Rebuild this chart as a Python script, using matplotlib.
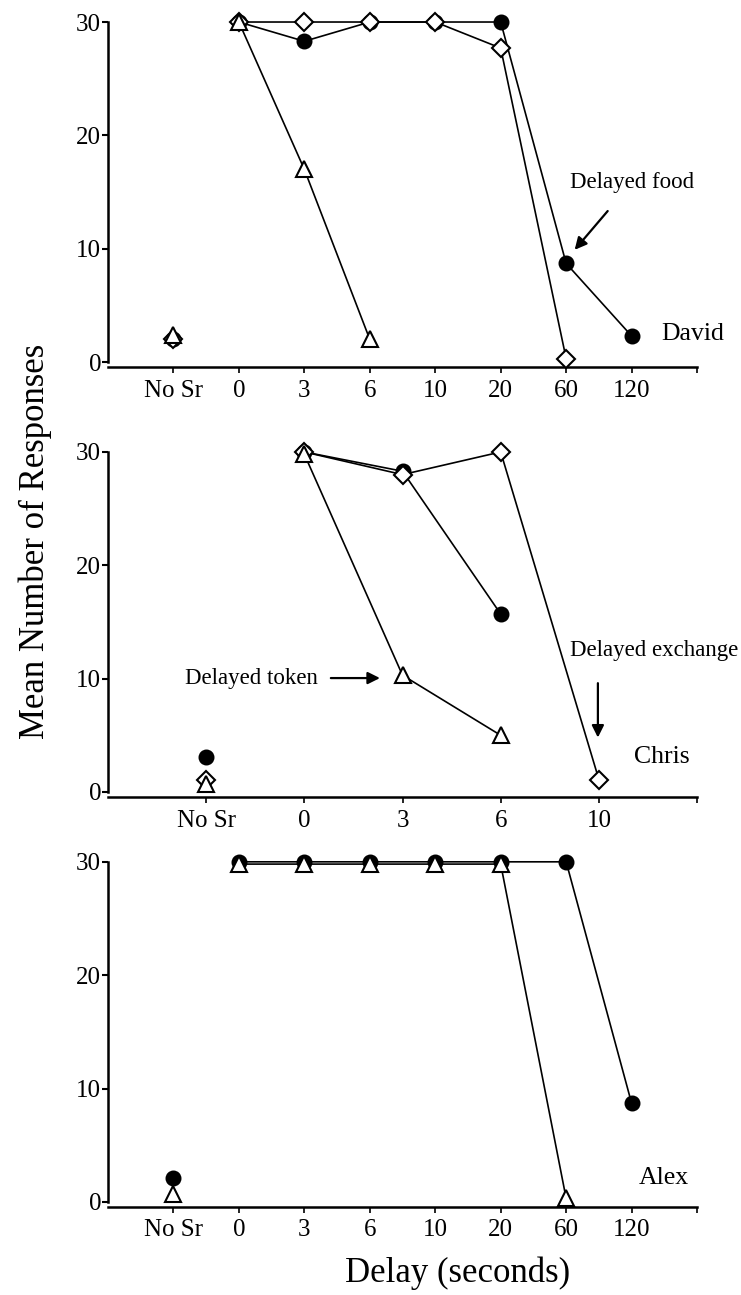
import matplotlib
matplotlib.use("Agg")
import matplotlib.pyplot as plt

plt.rcParams['font.family'] = ['Liberation Serif', 'DejaVu Serif']

# category labels on the x axis
cats_long = ["No Sr", "0", "3", "6", "10", "20", "60", "120"]
cats_short = ["No Sr", "0", "3", "6", "10"]

# David (values per category, None = no point)
david_food = [2.0, 30, 28.3, 30, 30, 30, 8.7, 2.3]
david_exch = [2.0, 30, 30, 30, 30, 27.7, 0.3, None]
david_token = [2.4, 30, 17.0, 2.0, None, None, None, None]

# Chris
chris_food = [3.1, 30, 28.3, 15.7, None]
chris_exch = [1.1, 30, 28.0, 30, 1.1]
chris_token = [0.7, 29.8, 10.3, 5.0, None]

# Alex
alex_food = [2.1, 30, 30, 30, 30, 30, 30, 8.7]
alex_token = [0.7, 29.8, 29.8, 29.8, 29.8, 29.8, 0.3, None]

fig = plt.figure(figsize=(7.41, 12.95), dpi=100)
left, width, height = 0.1457, 0.795, 0.2665
bottoms = [0.7165, 0.3845, 0.0680]

msizes = {'o': 10, 'D': 9.5, '^': 11}


def draw_series(ax, vals, marker, face, z):
    xs = [i for i, v in enumerate(vals) if v is not None]
    ys = [v for v in vals if v is not None]
    # No Sr point is not connected to the rest
    ax.plot(xs[1:], ys[1:], color='black', lw=1.2, zorder=z,
            marker=marker, ms=msizes[marker],
            mfc=face, mec='black', mew=1.5, clip_on=False)
    ax.plot(xs[:1], ys[:1], linestyle='none', zorder=z,
            marker=marker, ms=msizes[marker],
            mfc=face, mec='black', mew=1.5, clip_on=False)


def setup(ax, cats):
    n = len(cats)
    ax.set_xlim(-1, n)
    ax.set_ylim(-0.45, 30)
    for s in ['top', 'right']:
        ax.spines[s].set_visible(False)
    ax.spines['left'].set_bounds(0, 30)
    ax.spines['left'].set_linewidth(1.8)
    ax.spines['bottom'].set_linewidth(1.8)
    ax.set_yticks([0, 10, 20, 30])
    ax.set_xticks(range(n))
    ax.set_xticklabels(cats)
    ax.set_xticks([n], minor=True)
    ax.tick_params(axis='y', direction='out', length=4, width=1.5, pad=1, labelsize=18)
    ax.tick_params(axis='x', which='both', direction='out', length=4, width=1.2, pad=5, labelsize=18)


# panel 1 - David
ax1 = fig.add_axes([left, bottoms[0], width, height])
setup(ax1, cats_long)
draw_series(ax1, david_food, 'o', 'black', 3)
draw_series(ax1, david_exch, 'D', 'white', 4)
draw_series(ax1, david_token, '^', 'white', 5)
ax1.annotate("Delayed food", xy=(6.13, 9.9), xytext=(7.0, 15.8), ha='center', va='center',
             fontsize=16.5, annotation_clip=False,
             arrowprops=dict(arrowstyle='-|>', color='black', lw=1.6, mutation_scale=18,
                             shrinkA=14, shrinkB=0))
ax1.text(8.41, 2.5, "David", ha='right', va='center', fontsize=18.5)

# panel 2 - Chris
ax2 = fig.add_axes([left, bottoms[1], width, height])
setup(ax2, cats_short)
draw_series(ax2, chris_food, 'o', 'black', 3)
draw_series(ax2, chris_exch, 'D', 'white', 4)
draw_series(ax2, chris_token, '^', 'white', 5)
ax2.text(0.46, 10.05, "Delayed token", ha='center', va='center', fontsize=16.5)
ax2.annotate("", xy=(1.77, 10.05), xytext=(1.27, 10.05), annotation_clip=False,
             arrowprops=dict(arrowstyle='-|>', color='black', lw=1.6, mutation_scale=18,
                             shrinkA=0, shrinkB=0))
ax2.text(4.56, 12.5, "Delayed exchange", ha='center', va='center', fontsize=16.5, clip_on=False)
ax2.annotate("", xy=(3.99, 4.8), xytext=(3.99, 9.6), annotation_clip=False,
             arrowprops=dict(arrowstyle='-|>', color='black', lw=1.6, mutation_scale=18,
                             shrinkA=0, shrinkB=0))
ax2.text(4.92, 3.1, "Chris", ha='right', va='center', fontsize=18.5)

# panel 3 - Alex
ax3 = fig.add_axes([left, bottoms[2], width, height])
setup(ax3, cats_long)
draw_series(ax3, alex_food, 'o', 'black', 3)
draw_series(ax3, alex_token, '^', 'white', 5)
ax3.text(7.87, 2.1, "Alex", ha='right', va='center', fontsize=18.5)

fig.text(0.047, 0.582, "Mean Number of Responses", rotation=90, ha='center', va='center', fontsize=25)
fig.text(0.617, 0.017, "Delay (seconds)", ha='center', va='center', fontsize=25)

fig.savefig("out.png", dpi=100)
